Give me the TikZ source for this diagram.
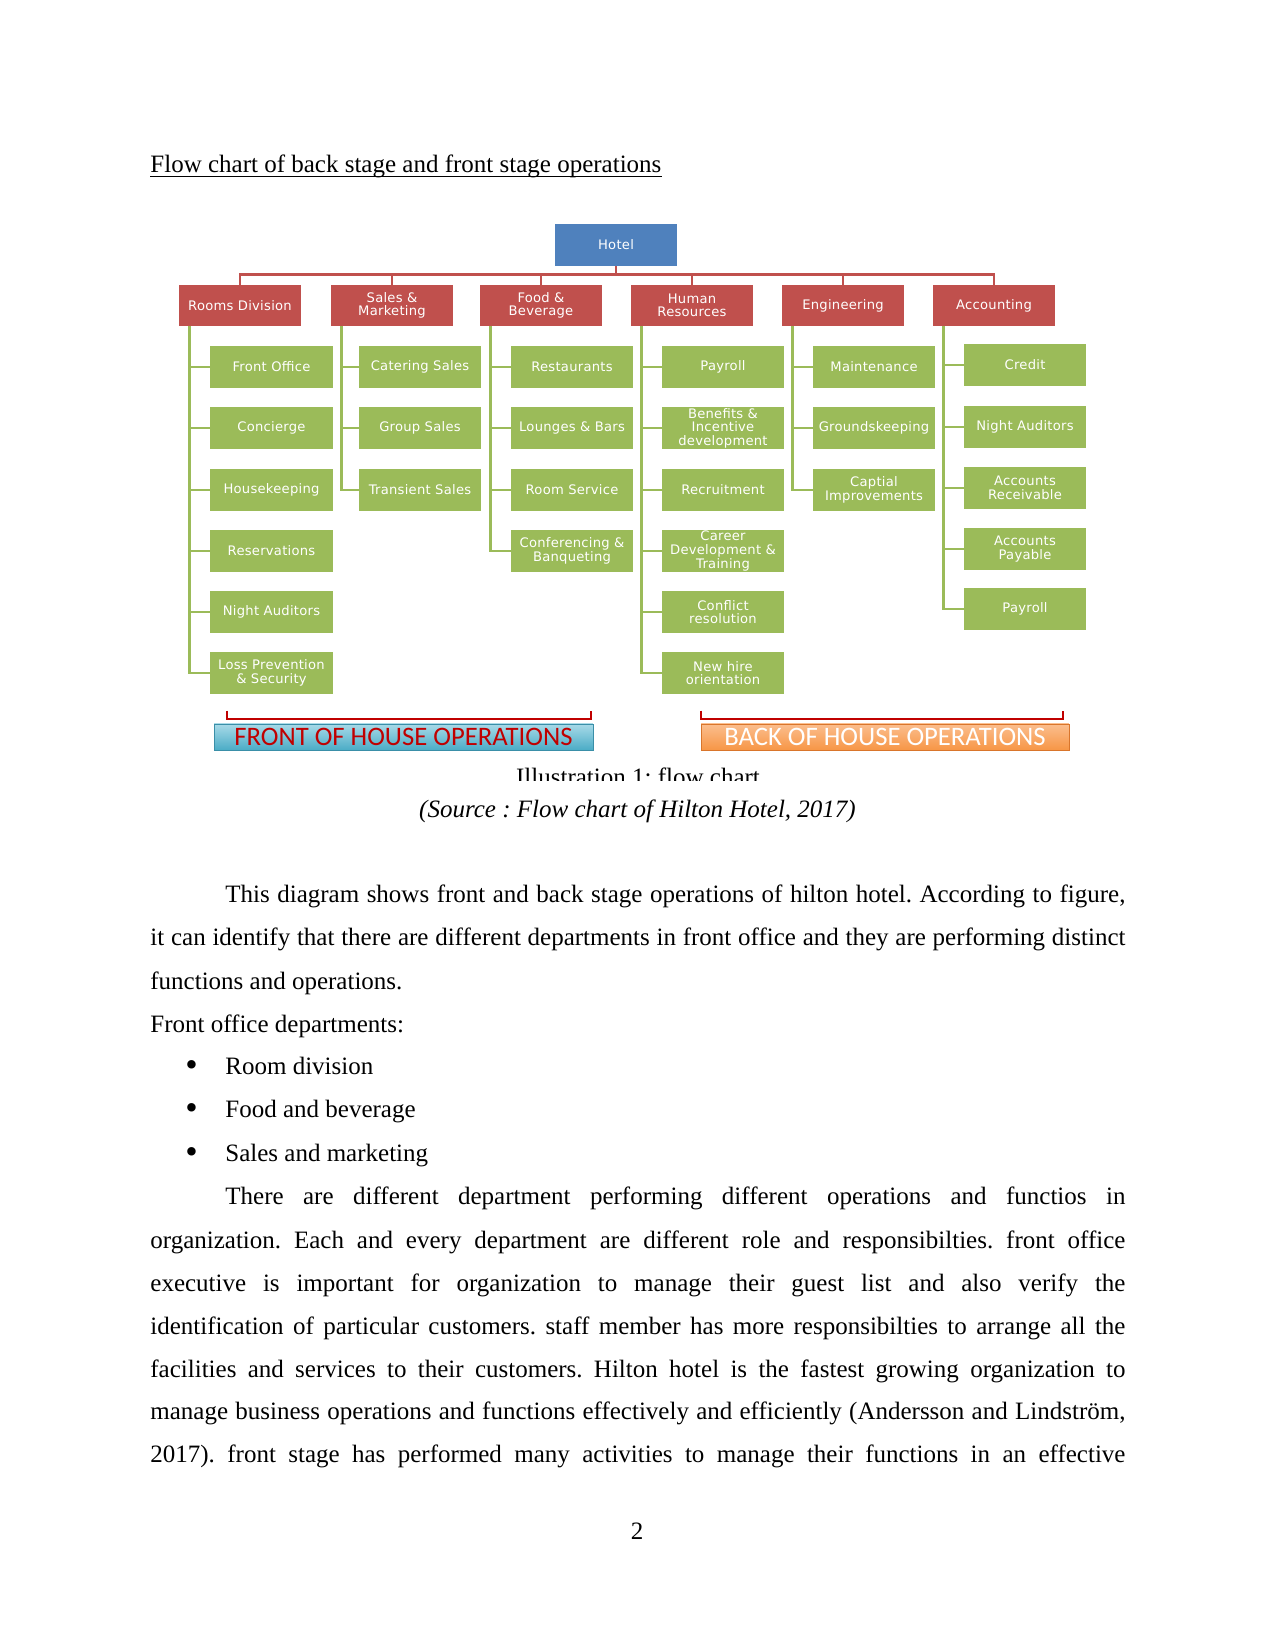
\documentclass[tikz,border=0pt]{standalone}
\usepackage{fontspec}
\setmainfont{Liberation Serif}
\newfontfamily\dejavu[LetterSpace=2]{DejaVu Sans}
\newfontfamily\carlito{Carlito}
\usetikzlibrary{calc}
\definecolor{cred}{HTML}{C0504D}
\definecolor{cgreen}{HTML}{9BBB59}
\definecolor{cblue}{HTML}{4F81BD}
\definecolor{aqua}{HTML}{4BACC6}
\definecolor{aqual}{HTML}{A8DAE8}
\definecolor{aquad}{HTML}{3A8FA8}
\definecolor{orng}{HTML}{F79646}
\definecolor{orngl}{HTML}{FBBE8E}
\definecolor{orngd}{HTML}{D9752B}
\definecolor{dred}{HTML}{C00000}
\newcommand\lbl{\dejavu\fontsize{6.3}{6.5}\selectfont}
\newcommand\body{\fontsize{12}{14}\selectfont\frenchspacing}
\tikzset{
  rbox/.style={fill=cred, text=white, minimum width=58.6pt, minimum height=19.7pt, inner sep=0pt, align=center, font=\lbl},
  gbox/.style={fill=cgreen, text=white, minimum width=58.6pt, minimum height=19.7pt, inner sep=0pt, align=center, font=\lbl},
  hbox/.style={fill=cblue, text=white, minimum width=58.6pt, minimum height=20.2pt, inner sep=0pt, align=center, font=\lbl},
  rline/.style={draw=cred, line width=1.1pt},
  gline/.style={draw=cgreen, line width=1.1pt},
  txt/.style={inner sep=0pt, font=\body, anchor=base west},
  bul/.style={inner sep=0pt, font=\fontsize{17}{17}\selectfont, anchor=base},
  opbox/.style={minimum height=12.5pt, inner sep=0pt, font=\carlito\fontsize{12.8}{14}\selectfont}
}
\begin{document}
\begin{tikzpicture}[x=0.48pt,y=-0.48pt]
\useasboundingbox (0,0) rectangle (1275,1651);
\fill[white] (0,0) rectangle (1275,1651);

% title
\node[txt] (title) at (150,173) {Flow chart of back stage and front stage operations};
\draw[line width=0.6pt] ($(title.base west)+(0,3.5)$) -- ($(title.base east)+(0,3.5)$);

% chart top
\node[hbox] (hotel) at (616,245) {Hotel};
\node[rbox] (rd) at (240,305.5) {Rooms Division};
\node[rbox] (sm) at (392,305.5) {Sales \&\\Marketing};
\node[rbox] (fb) at (541,305.5) {Food \&\\Beverage};
\node[rbox] (hr) at (692,305.5) {Human\\Resources};
\node[rbox] (en) at (843,305.5) {Engineering};
\node[rbox] (ac) at (994,305.5) {Accounting};
\foreach \n in {rd,sm,fb,hr,en,ac}
  \draw[rline] (\n.north) -- ++(0,-10) -| (hotel.south);

% Rooms division
\node[gbox] (r1) at (271.5,367) {Front Office};
\node[gbox] (r2) at (271.5,428) {Concierge};
\node[gbox] (r3) at (271.5,490) {Housekeeping};
\node[gbox] (r4) at (271.5,551) {Reservations};
\node[gbox] (r5) at (271.5,612) {Night Auditors};
\node[gbox] (r6) at (271.5,673) {Loss Prevention\\\& Security};
\foreach \c in {r1,r2,r3,r4,r5,r6}
  \draw[gline] ($(rd.south west)+(11,0)$) |- (\c.west);

% Sales
\node[gbox] (s1) at (420,367) {Catering Sales};
\node[gbox] (s2) at (420,428) {Group Sales};
\node[gbox] (s3) at (420,490) {Transient Sales};
\foreach \c in {s1,s2,s3}
  \draw[gline] ($(sm.south west)+(11,0)$) |- (\c.west);

% F&B
\node[gbox] (f1) at (572,367) {Restaurants};
\node[gbox] (f2) at (572,428) {Lounges \& Bars};
\node[gbox] (f3) at (572,490) {Room Service};
\node[gbox] (f4) at (572,551) {Conferencing \&\\Banqueting};
\foreach \c in {f1,f2,f3,f4}
  \draw[gline] ($(fb.south west)+(11,0)$) |- (\c.west);

% HR
\node[gbox] (h1) at (723,367) {Payroll};
\node[gbox] (h2) at (723,428) {Benefits \&\\Incentive\\development};
\node[gbox] (h3) at (723,490) {Recruitment};
\node[gbox] (h4) at (723,551) {Career\\Development \&\\Training};
\node[gbox] (h5) at (723,612) {Conflict\\resolution};
\node[gbox] (h6) at (723,673) {New hire\\orientation};
\foreach \c in {h1,h2,h3,h4,h5,h6}
  \draw[gline] ($(hr.south west)+(11,0)$) |- (\c.west);

% Engineering
\node[gbox] (e1) at (874,367) {Maintenance};
\node[gbox] (e2) at (874,428) {Groundskeeping};
\node[gbox] (e3) at (874,490) {Captial\\Improvements};
\foreach \c in {e1,e2,e3}
  \draw[gline] ($(en.south west)+(11,0)$) |- (\c.west);

% Accounting
\node[gbox] (a1) at (1025,365) {Credit};
\node[gbox] (a2) at (1025,427) {Night Auditors};
\node[gbox] (a3) at (1025,488) {Accounts\\Receivable};
\node[gbox] (a4) at (1025,549) {Accounts\\Payable};
\node[gbox] (a5) at (1025,609) {Payroll};
\foreach \c in {a1,a2,a3,a4,a5}
  \draw[gline] ($(ac.south west)+(11,0)$) |- (\c.west);

% bottom labels
\node[opbox, minimum width=181.9pt, top color=aqual, bottom color=aqua, draw=aquad, line width=0.3pt, text=dred] (front) at (403.5,737) {FRONT OF HOUSE OPERATIONS};
\node[opbox, minimum width=176.6pt, top color=orngl, bottom color=orng, draw=orngd, line width=0.3pt, text=white] (back) at (885,737) {BACK OF HOUSE OPERATIONS};
\draw[draw=dred, line width=0.8pt] ($(front.north west)+(13,-13)$) -- ($(front.north west)+(13,-5)$) -- ($(front.north east)+(-2,-5)$) -- ($(front.north east)+(-2,-13)$);
\draw[draw=dred, line width=0.8pt] ($(back.north west)+(0,-13)$) -- ($(back.north west)+(0,-5)$) -- ($(back.north east)+(-6,-5)$) -- ($(back.north east)+(-6,-13)$);

% caption (cut off)
\begin{scope}
\clip (400,755) rectangle (900,780);
\node[txt, anchor=base] (ill) at (638,785) {Illustration 1: flow chart};
\end{scope}
\node[txt, anchor=base] (src) at (637.5,817) {\itshape (Source : Flow chart of Hilton Hotel, 2017)};

% body text
\node[txt] (p1) at (225,902) {\makebox[432pt][s]{This diagram shows front and back stage operations of hilton hotel. According to figure,}};
\node[txt] (p2) at (150,945) {\makebox[468pt][s]{it can identify that there are different departments in front office and they are performing distinct}};
\node[txt] (p3) at (150,989) {functions and operations.};
\node[txt] (p4) at (150,1032) {Front office departments:};
\node[bul] (b1) at (191.5,1076) {\textbullet};
\node[txt] (i1) at (225,1074) {Room division};
\node[bul] (b2) at (191.5,1119) {\textbullet};
\node[txt] (i2) at (225,1117) {Food and beverage};
\node[bul] (b3) at (191.5,1163) {\textbullet};
\node[txt] (i3) at (225,1161) {Sales and marketing};
\node[txt] (q1) at (225,1204) {\makebox[432pt][s]{There are different department performing different operations and functios in}};
\node[txt] (q2) at (150,1248) {\makebox[468pt][s]{organization. Each and every department are different role and responsibilties. front office}};
\node[txt] (q3) at (150,1291) {\makebox[468pt][s]{executive is important for organization to manage their guest list and also verify the}};
\node[txt] (q4) at (150,1334) {\makebox[468pt][s]{identification of particular customers. staff member has more responsibilties to arrange all the}};
\node[txt] (q5) at (150,1377) {\makebox[468pt][s]{facilities and services to their customers. Hilton hotel is the fastest growing organization to}};
\node[txt] (q6) at (150,1419) {\makebox[468pt][s]{manage business operations and functions effectively and efficiently (Andersson and Lindström,}};
\node[txt] (q7) at (150,1462) {\makebox[468pt][s]{2017). front stage has performed many activities to manage their functions in an effective}};

\node[txt, anchor=base] (pg) at (637,1539) {2};
\end{tikzpicture}
\end{document}
